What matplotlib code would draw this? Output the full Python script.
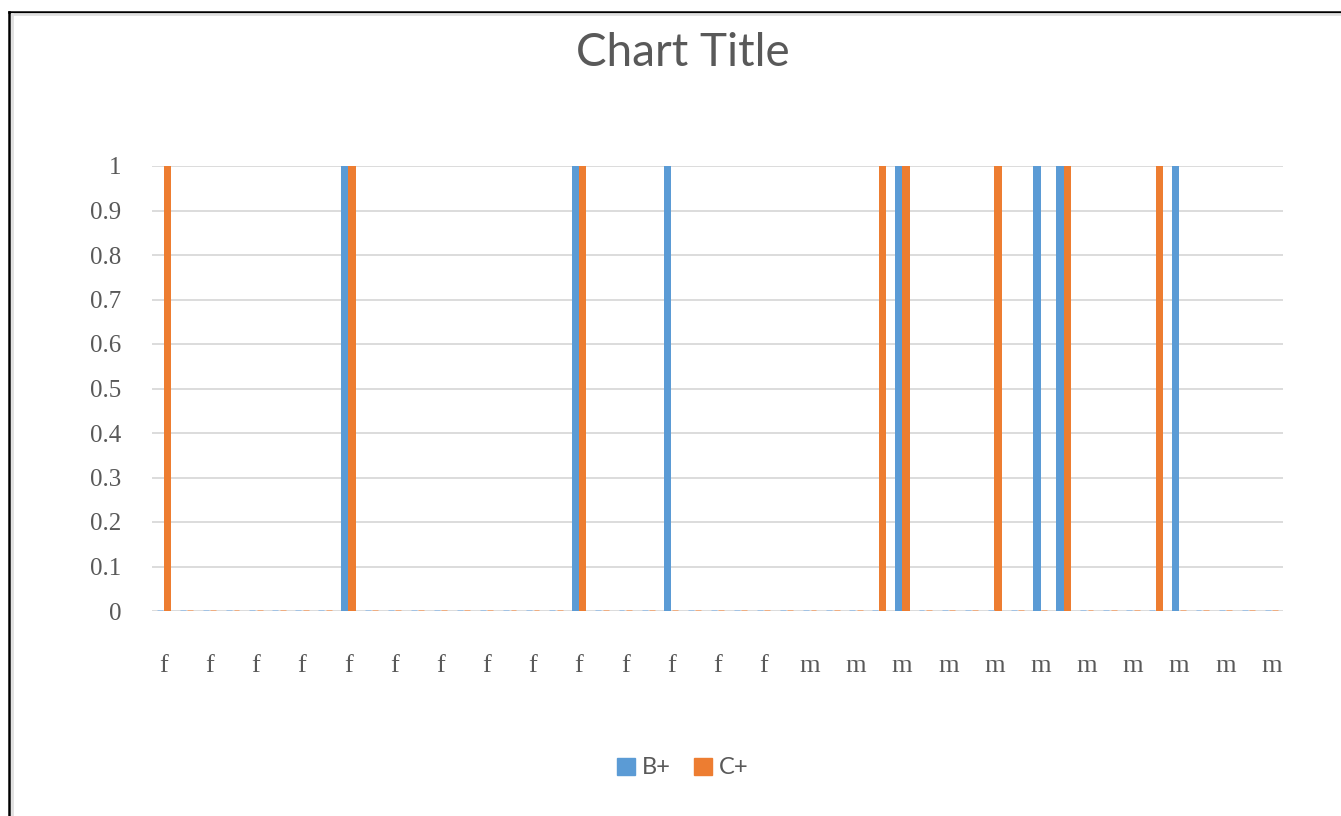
import matplotlib.pyplot as plt
import numpy as np
from matplotlib.lines import Line2D
import matplotlib.patches as mpatches

# 49 categories, Excel shows every other label
categories = ['f'] * 28 + ['m'] * 21
b_plus = [0, 0, 0, 0, 0, 0, 0, 0, 1, 0,
          0, 0, 0, 0, 0, 0, 0, 0, 1, 0,
          0, 0, 1, 0, 0, 0, 0, 0, 0, 0,
          0, 0, 1, 0, 0, 0, 0, 0, 1, 1,
          0, 0, 0, 0, 1, 0, 0, 0, 0]
c_plus = [1, 0, 0, 0, 0, 0, 0, 0, 1, 0,
          0, 0, 0, 0, 0, 0, 0, 0, 1, 0,
          0, 0, 0, 0, 0, 0, 0, 0, 0, 0,
          0, 1, 1, 0, 0, 0, 1, 0, 0, 1,
          0, 0, 0, 1, 0, 0, 0, 0, 0]
series_names = ['B+', 'C+']
y_ticks = [0, 0.1, 0.2, 0.3, 0.4, 0.5, 0.6, 0.7, 0.8, 0.9, 1]
y_ticklabels = ['0', '0.1', '0.2', '0.3', '0.4', '0.5', '0.6', '0.7', '0.8', '0.9', '1']

blue = '#5B9BD5'
orange = '#ED7D31'
blue_light = '#9DC0E6'
orange_light = '#F2A978'
text_gray = '#595959'
grid_gray = '#D9D9D9'

fig = plt.figure(figsize=(13.41, 8.16), dpi=100)
ax = fig.add_axes([152 / 1341, 1 - 611 / 816, (1283 - 152) / 1341, (611 - 166) / 816])

x = np.arange(len(categories))
w = 0.32
b = np.array(b_plus, dtype=float)
c = np.array(c_plus, dtype=float)

# tall bars
ax.bar(x - w / 2, b, w, color=blue, linewidth=0, zorder=3)
ax.bar(x + w / 2, c, w, color=orange, linewidth=0, zorder=3)
# zero-height bars show as faint dashes on the axis line
bz = b == 0
cz = c == 0
ax.bar((x - w / 2)[bz], b[bz], w * 0.8, color=blue_light, edgecolor=blue_light, linewidth=2.0, zorder=3)
ax.bar((x + w / 2)[cz], c[cz], w * 0.8, color=orange_light, edgecolor=orange_light, linewidth=2.0, zorder=3)

ax.set_xlim(-0.5, len(categories) - 0.5)
ax.set_ylim(0, 1)
ax.set_yticks(y_ticks)
ax.set_yticklabels(y_ticklabels, fontsize=18, family='Liberation Serif', color=text_gray)
ax.set_xticks(x[::2])
ax.set_xticklabels(categories[::2], fontsize=19, family='Liberation Serif', color=text_gray)
ax.tick_params(axis='y', length=0, pad=22)
ax.tick_params(axis='x', length=0, pad=32)
ax.grid(axis='y', color=grid_gray, linewidth=1.3, zorder=0)
ax.set_axisbelow(True)
for s in ax.spines.values():
    s.set_visible(False)

fig.text(683 / 1341, 1 - 53 / 816, 'Chart Title', ha='center', va='center',
         fontsize=33, family='Lato', color=text_gray)

handles = [mpatches.Rectangle((0, 0), 1, 1, color=blue),
           mpatches.Rectangle((0, 0), 1, 1, color=orange)]
leg = fig.legend(handles=handles, labels=series_names, loc='center',
                 bbox_to_anchor=(683 / 1341, 1 - 768 / 816), ncol=2, frameon=False,
                 prop={'family': 'Lato', 'size': 17}, handlelength=0.75, handleheight=0.75,
                 handletextpad=0.3, columnspacing=1.0)
for t in leg.get_texts():
    t.set_color(text_gray)

# outer frame of the screenshot
fig.add_artist(Line2D([9 / 1341, 1], [1 - 12 / 816, 1 - 12 / 816], color='black', linewidth=1.8))
fig.add_artist(Line2D([9 / 1341, 9 / 1341], [0, 1 - 12 / 816], color='black', linewidth=1.8))
fig.add_artist(Line2D([12 / 1341, 1], [1 - 14 / 816, 1 - 14 / 816], color='#E0E0E0', linewidth=2))
fig.add_artist(Line2D([12 / 1341, 12 / 1341], [0, 1 - 14 / 816], color='#E0E0E0', linewidth=2))

fig.savefig('out.png', dpi=100)
